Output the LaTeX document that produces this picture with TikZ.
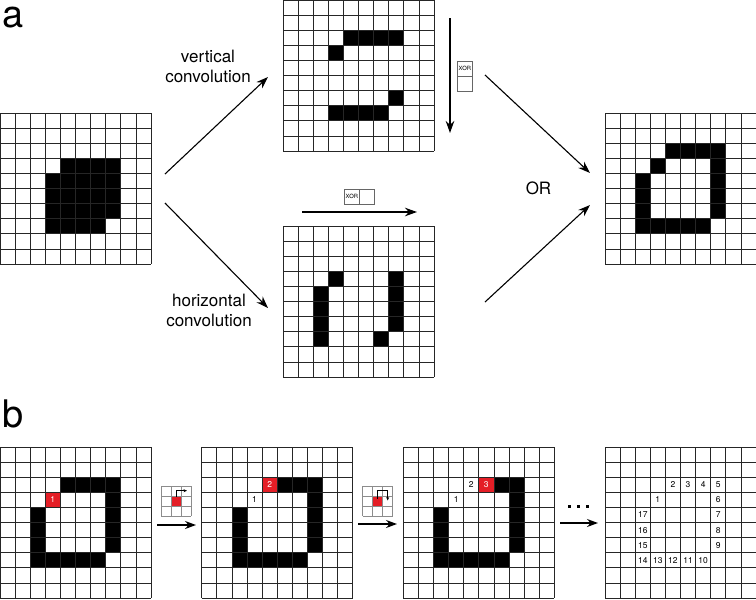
\documentclass[tikz,border=0pt]{standalone}
\usepackage{fontspec}
\setmainfont{TeX Gyre Heros}
\usetikzlibrary{arrows.meta}
\definecolor{cellred}{RGB}{228,30,38}
\newcommand\pixlines{%
  \foreach \i in {0,...,10} {\draw[gl] (\i*15.1,0) -- (\i*15.1,151); \draw[gl] (0,\i*15.1) -- (151,\i*15.1);}}
\newcommand\blackcells[1]{%
  \foreach \c/\r in {#1} {\fill[black] (\c*15.1,\r*15.1) rectangle ++(15.1,15.1);}}
\newcommand\redcell[3]{%
  \fill[cellred] (#1*15.1,#2*15.1) rectangle ++(15.1,15.1);
  \node[num, text=white] at (#1*15.1+7.55,#2*15.1+7.55) {#3};}
\newcommand\numcell[3]{%
  \node[num] at (#1*15.1+7.55,#2*15.1+7.55) {#3};}
\begin{document}
\begin{tikzpicture}[x=1pt,y=-1pt,
  gl/.style={line width=0.7pt, draw=black!85},
  igl/.style={line width=0.5pt, draw=black!45},
  gridbox/.style={inner sep=0pt, minimum width=151pt, minimum height=151pt, anchor=north west},
  iconbox/.style={inner sep=0pt, minimum width=30pt, minimum height=30pt, anchor=north west},
  num/.style={font=\fontsize{8.5}{9}\selectfont, inner sep=0pt},
  lbl/.style={font=\fontsize{17}{20}\selectfont, align=center, inner sep=0pt},
  big/.style={font=\fontsize{38}{38}\selectfont, inner sep=0pt, anchor=base west},
  arr/.style={line width=1.1pt, -{Stealth[length=12pt,width=8.5pt]}},
  xarr/.style={line width=1.8pt, -{Stealth[length=12pt,width=8.5pt]}},
  barr/.style={line width=1.3pt, -{Stealth[length=11pt,width=8pt]}},
  iarr/.style={line width=0.6pt, -{Stealth[length=3.5pt,width=3pt]}},
  xorbox/.style={draw=black!60, line width=0.6pt},
  xortxt/.style={font=\fontsize{5.8}{6}\selectfont, inner sep=0pt}]
\useasboundingbox (0,0) rectangle (756,600);

% ---------- section labels ----------
\node[big] (la) at (2,27) {a};
\node[big] (lb) at (2,427) {b};

% ---------- panel a: input ----------
\begin{scope}[shift={(0,113)}]
  \blackcells{4/3,5/3,6/3,7/3, 3/4,4/4,5/4,6/4,7/4, 3/5,4/5,5/5,6/5,7/5, 3/6,4/6,5/6,6/6,7/6, 3/7,4/7,5/7,6/7}
  \pixlines
  \node[gridbox] (gin) at (0,0) {};
\end{scope}

% ---------- vertical convolution ----------
\begin{scope}[shift={(283,0)}]
  \blackcells{4/2,5/2,6/2,7/2, 3/3, 7/6, 3/7,4/7,5/7,6/7}
  \pixlines
  \node[gridbox] (gver) at (0,0) {};
\end{scope}

% ---------- horizontal convolution ----------
\begin{scope}[shift={(283,226)}]
  \blackcells{3/3,7/3, 2/4,7/4, 2/5,7/5, 2/6,7/6, 2/7,6/7}
  \pixlines
  \node[gridbox] (ghor) at (0,0) {};
\end{scope}

% ---------- OR result ----------
\begin{scope}[shift={(605,113)}]
  \blackcells{4/2,5/2,6/2,7/2, 3/3,7/3, 2/4,7/4, 2/5,7/5, 2/6,7/6, 2/7,3/7,4/7,5/7,6/7}
  \pixlines
  \node[gridbox] (gor) at (0,0) {};
\end{scope}

% labels
\node[lbl, anchor=north] (vlab) at (208,50) {vertical\\convolution};
\node[lbl, anchor=north] (hlab) at (209,294) {horizontal\\convolution};
\node[lbl, anchor=base] (orlab) at (538.5,194) {OR};

% arrows panel a
\coordinate (a1s) at (165,174); \coordinate (a1e) at (268,77);
\coordinate (a2s) at (165,203); \coordinate (a2e) at (268,308);
\coordinate (a3s) at (485,75);  \coordinate (a3e) at (590,173);
\coordinate (a4s) at (485,302); \coordinate (a4e) at (590,205);
\draw[arr] (a1s) -- (a1e);
\draw[arr] (a2s) -- (a2e);
\draw[arr] (a3s) -- (a3e);
\draw[arr] (a4s) -- (a4e);

% XOR direction arrows and boxes
\coordinate (vxs) at (450,18); \coordinate (vxe) at (450,133);
\draw[xarr] (vxs) -- (vxe);
\node[xorbox, inner sep=0pt, minimum width=15pt, minimum height=15pt, anchor=north west] (vx1) at (457,61) {};
\node[xorbox, inner sep=0pt, minimum width=15pt, minimum height=15pt, anchor=north west] (vx2) at (457,76) {};
\node[xortxt] at (vx1.center) {XOR};

\coordinate (hxs) at (302,212); \coordinate (hxe) at (417,212);
\draw[xarr] (hxs) -- (hxe);
\node[xorbox, inner sep=0pt, minimum width=15pt, minimum height=15pt, anchor=north west] (hx1) at (344,189) {};
\node[xorbox, inner sep=0pt, minimum width=15pt, minimum height=15pt, anchor=north west] (hx2) at (359,189) {};
\node[xortxt] at (hx1.center) {XOR};

% ---------- panel b ----------
\begin{scope}[shift={(0,447)}]
  \blackcells{4/2,5/2,6/2,7/2, 7/3, 2/4,7/4, 2/5,7/5, 2/6,7/6, 2/7,3/7,4/7,5/7,6/7}
  \redcell{3}{3}{1}
  \pixlines
  \node[gridbox] (gb1) at (0,0) {};
\end{scope}

\begin{scope}[shift={(201.7,447)}]
  \blackcells{5/2,6/2,7/2, 7/3, 2/4,7/4, 2/5,7/5, 2/6,7/6, 2/7,3/7,4/7,5/7,6/7}
  \redcell{4}{2}{2}
  \numcell{3}{3}{1}
  \pixlines
  \node[gridbox] (gb2) at (0,0) {};
\end{scope}

\begin{scope}[shift={(403.3,447)}]
  \blackcells{6/2,7/2, 7/3, 2/4,7/4, 2/5,7/5, 2/6,7/6, 2/7,3/7,4/7,5/7,6/7}
  \redcell{5}{2}{3}
  \numcell{4}{2}{2}
  \numcell{3}{3}{1}
  \pixlines
  \node[gridbox] (gb3) at (0,0) {};
\end{scope}

\begin{scope}[shift={(605,447)}]
  \foreach \c/\r/\n in {4/2/2,5/2/3,6/2/4,7/2/5,3/3/1,7/3/6,2/4/17,7/4/7,2/5/16,7/5/8,2/6/15,7/6/9,2/7/14,3/7/13,4/7/12,5/7/11,6/7/10}
    {\numcell{\c}{\r}{\n}}
  \pixlines
  \node[gridbox] (gb4) at (0,0) {};
\end{scope}

% small search icons
\begin{scope}[shift={(161,486)}]
  \fill[cellred] (10,10) rectangle (20,20);
  \foreach \i in {0,...,3} {\draw[igl] (\i*10,0) -- (\i*10,30); \draw[igl] (0,\i*10) -- (30,\i*10);}
  \node[iconbox] (ic1) at (0,0) {};
  \coordinate (ic1s) at (15,11); \coordinate (ic1b) at (15,4.7); \coordinate (ic1e) at (26,4.7);
  \draw[iarr] (ic1s) -- (ic1b) -- (ic1e);
\end{scope}

\begin{scope}[shift={(362.7,486)}]
  \fill[cellred] (10,10) rectangle (20,20);
  \foreach \i in {0,...,3} {\draw[igl] (\i*10,0) -- (\i*10,30); \draw[igl] (0,\i*10) -- (30,\i*10);}
  \node[iconbox] (ic2) at (0,0) {};
  \coordinate (ic2s) at (15,13); \coordinate (ic2b) at (15,4.7); \coordinate (ic2c) at (25,4.7); \coordinate (ic2e) at (25,14.5);
  \draw[iarr] (ic2s) -- (ic2b) -- (ic2c) -- (ic2e);
\end{scope}

% step arrows
\coordinate (b1s) at (157,525); \coordinate (b1e) at (196,525);
\coordinate (b2s) at (358,524); \coordinate (b2e) at (397,524);
\coordinate (b3s) at (560,523); \coordinate (b3e) at (598,523);
\draw[barr] (b1s) -- (b1e);
\draw[barr] (b2s) -- (b2e);
\draw[barr] (b3s) -- (b3e);

% ellipsis dots
\foreach \x in {569.5,578.5,587.5} {\fill[black] (\x-1.8,504.5) rectangle ++(3.6,3.6);}
\end{tikzpicture}
\end{document}
